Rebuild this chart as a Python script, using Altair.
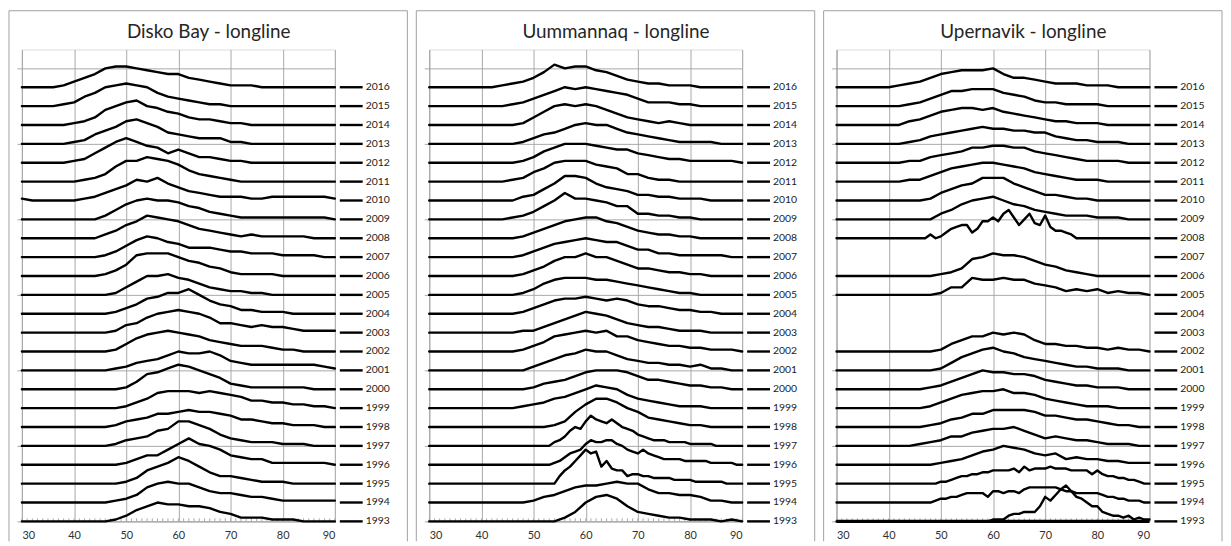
import altair as alt
import pandas as pd

# ---------------- data (10 units = one row spacing) -------------
LENGTHS_2CM = list(range(30, 91, 2))
LENGTHS_1CM = list(range(30, 91))
YEARS = list(range(1993, 2017))
X_TICKS = [30, 40, 50, 60, 70, 80, 90]
MINOR_TICKS = list(range(30, 91))
Y_GRID = list(range(0, 251, 10))
ROW_STEP = 10
TITLES = ["Disko Bay - longline", "Uummannaq - longline", "Upernavik - longline"]

DISKO = {
    2016: [0,0,0,0,1,3,5,7,10,11,11,10,9,8,7,7,5,4,3,2,1,1,1,0,0,0,0,0,0,0,0],
    2015: [0,0,0,0,1,2,5,7,10,11,12,11,10,7,5,4,3,2,1,1,0,0,0,0,0,0,0,0,0,0,0],
    2014: [0,0,0,0,0,1,2,4,8,10,12,13,10,9,7,6,4,3,3,2,1,1,0,0,0,0,0,0,0,0,0],
    2013: [0,0,0,0,0,1,2,5,7,9,12,13,11,9,6,5,4,3,3,3,1,1,0,0,0,0,0,0,0,0,0],
    2012: [0,0,0,0,0,1,2,5,8,11,13,11,9,8,5,7,5,3,3,2,1,1,0,0,0,0,0,0,0,0,0],
    2011: [0,0,0,0,0,0,1,2,4,8,11,11,13,12,11,9,6,4,3,2,1,0,0,0,0,0,0,0,0,0,0],
    2010: [1,0,0,0,0,0,1,2,4,6,8,11,10,12,9,7,5,4,3,2,2,2,1,1,2,2,2,2,2,2,1],
    2009: [0,0,0,0,0,0,0,0,2,5,8,10,11,10,10,9,7,6,4,3,2,1,1,1,1,1,1,1,1,1,0],
    2008: [0,0,0,0,0,0,0,0,2,4,7,9,12,11,10,9,7,5,4,3,2,1,2,1,1,1,1,1,0,0,0],
    2007: [0,0,0,0,0,0,0,0,1,3,6,9,11,10,8,7,5,5,5,4,3,3,2,2,2,1,1,1,1,0,0],
    2006: [0,0,0,0,0,0,0,0,1,3,6,11,12,12,12,10,8,7,5,4,2,1,1,1,1,0,0,0,0,0,0],
    2005: [0,0,0,0,0,0,0,0,0,1,4,7,10,10,11,9,8,6,4,3,2,2,1,1,0,0,0,0,0,0,0],
    2004: [0,0,0,0,0,0,0,0,0,1,3,5,8,9,11,11,13,10,7,5,4,2,2,1,1,1,0,0,0,0,0],
    2003: [0,0,0,0,0,0,0,0,0,1,4,5,8,10,11,12,11,10,8,5,5,4,3,4,3,3,2,1,1,1,1],
    2002: [0,0,0,0,0,0,0,0,0,1,4,7,9,10,11,10,9,8,6,5,4,3,3,3,2,1,1,0,0,0,0],
    2001: [0,0,0,0,0,0,0,0,0,1,2,4,5,6,8,10,9,9,10,8,5,4,3,3,3,3,3,3,3,2,1],
    2000: [0,0,0,0,0,0,0,0,0,0,1,4,8,9,11,13,12,10,8,6,3,2,1,1,1,1,1,1,0,0,0],
    1999: [0,0,0,0,0,0,0,0,0,0,1,3,5,8,9,9,9,8,9,8,7,6,4,4,3,3,2,2,1,1,0],
    1998: [0,0,0,0,0,0,0,0,0,1,3,4,5,7,7,8,9,8,8,7,6,4,4,3,2,2,1,1,1,0,0],
    1997: [0,0,0,0,0,0,0,0,0,1,3,4,5,8,9,13,13,11,9,6,4,3,2,2,2,1,1,1,0,0,0],
    1996: [0,0,0,0,0,0,0,0,0,0,1,3,5,5,8,11,14,11,10,8,5,4,3,3,1,1,1,1,1,1,0],
    1995: [0,0,0,0,0,0,0,0,0,0,1,3,7,9,11,14,12,9,6,4,4,3,2,1,1,1,0,0,0,0,0],
    1994: [0,0,0,0,0,0,0,0,0,1,2,4,8,10,11,10,10,8,6,5,5,4,3,3,2,1,1,1,1,1,1],
    1993: [0,0,0,0,0,0,0,0,0,1,3,6,8,10,9,9,8,8,7,5,4,2,2,2,1,1,1,0,0,0,0],
}

UUMMANNAQ = {
    2016: [0,0,0,0,0,0,0,1,2,3,5,8,12,10,11,11,9,8,6,4,3,2,2,1,1,1,0,0,0,0,0],
    2015: [0,0,0,0,0,0,0,0,1,2,4,6,8,10,9,10,9,8,7,6,4,2,2,2,1,1,0,0,0,0,0],
    2014: [0,0,0,0,0,0,0,0,0,1,4,7,10,11,10,11,10,8,6,4,3,2,1,2,1,0,0,0,0,0,0],
    2013: [0,0,0,0,0,0,0,0,0,1,3,5,6,8,10,11,10,10,8,6,5,4,3,2,1,1,1,1,0,0,0],
    2012: [0,0,0,0,0,0,0,0,0,1,3,6,8,10,10,10,9,8,7,7,5,4,3,2,2,1,1,1,1,1,0],
    2011: [0,0,0,0,0,0,0,0,1,2,5,7,10,11,11,11,9,8,7,4,4,2,1,1,0,0,0,0,0,0,0],
    2010: [0,0,0,0,0,0,0,0,0,2,3,6,9,13,13,12,9,7,6,5,3,3,2,2,1,1,1,0,0,0,0],
    2009: [0,0,0,0,0,0,0,0,1,2,4,7,10,14,11,11,10,9,7,7,3,3,2,2,1,1,0,0,0,0,0],
    2008: [0,0,0,0,0,0,0,0,0,1,3,5,7,9,10,11,11,9,8,6,4,3,2,2,1,1,0,0,0,0,0],
    2007: [0,0,0,0,0,0,0,0,0,1,3,5,7,8,9,10,9,8,8,6,4,4,2,2,1,1,1,1,1,0,0],
    2006: [0,0,0,0,0,0,0,0,0,1,3,5,8,10,10,12,10,10,8,6,4,4,3,2,2,1,1,0,0,0,0],
    2005: [0,0,0,0,0,0,0,0,0,1,3,6,8,9,9,9,8,8,7,6,5,4,3,2,1,1,0,0,0,0,0],
    2004: [0,0,0,0,0,0,0,0,0,1,3,5,7,8,8,9,8,7,8,7,5,4,4,3,2,2,1,1,0,0,0],
    2003: [0,0,0,0,0,0,0,0,0,1,1,3,5,7,9,11,10,9,7,5,4,3,3,2,1,1,1,0,0,0,0],
    2002: [0,0,0,0,0,0,0,0,0,1,3,5,8,9,10,11,10,11,8,8,6,5,4,3,3,2,2,1,1,1,0],
    2001: [0,0,0,0,0,0,0,0,0,0,2,4,6,8,9,11,10,10,8,6,5,4,4,3,3,2,3,1,1,0,0],
    2000: [0,0,0,0,0,0,0,0,0,0,1,3,4,5,7,9,10,10,10,9,7,5,5,4,3,2,2,1,1,0,0],
    1999: [0,0,0,0,0,0,0,0,0,1,2,3,5,6,8,10,12,11,10,7,5,4,3,2,1,1,1,0,0,0,0],
    1998: [0,0,0,0,0,0,0,0,0,0,0,0,1,3,8,12,15,15,13,10,8,5,4,3,2,1,1,0,0,0,0],
    1997: [0,0,0,0,0,0,0,0,0,0, 0,0,0,0,0,0,0,0,0,0, 0,0,0,
           0,2,3,5,8,10,9,13,16,14,13,12,14,12,10,9,8,6,5,4,3,3,3,2,2,2,2,1,1,1,1,1,0,0,0,0,0,0],
    1996: [0,0,0,0,0,0,0,0,0,0, 0,0,0,0,0,0,0,0,0,0, 0,0,0,
           0,1,2,4,6,7,8,11,13,12,12,13,13,11,10,8,7,6,8,6,5,4,3,3,3,3,2,2,2,2,2,1,1,1,1,1,0,0],
    1995: [0,0,0,0,0,0,0,0,0,0, 0,0,0,0,0,0,0,0,0,0, 0,0,0,0,
           0,4,7,9,12,15,18,16,17,9,12,8,7,7,4,5,5,4,4,3,3,3,3,2,2,2,2,1,1,1,1,1,1,0,0,0,0],
    1994: [0,0,0,0,0,0,0,0,0,0,1,3,4,6,8,9,9,10,11,10,10,7,5,5,4,4,3,1,1,0,0],
    1993: [0,0,0,0,0,0,0,0,0,0,0,0,0,2,5,10,13,14,12,8,5,4,3,2,2,1,1,1,0,1,0],
}

UPERNAVIK = {
    2016: [0,0,0,0,0,0,1,2,3,5,7,8,9,9,9,10,7,5,5,4,3,2,2,2,1,1,1,0,0,0,0],
    2015: [0,0,0,0,0,0,0,1,2,4,6,8,8,9,9,9,7,6,5,3,2,2,1,1,1,1,0,0,0,0,0],
    2014: [0,0,0,0,0,0,0,2,3,5,7,8,9,9,8,9,7,6,5,4,3,2,2,1,1,1,0,0,0,0,0],
    2013: [0,0,0,0,0,0,0,1,2,4,5,6,7,8,9,8,8,7,7,6,6,4,3,2,2,1,1,1,0,0,0],
    2012: [0,0,0,0,0,0,0,1,1,3,4,5,6,8,8,9,9,8,8,6,5,4,3,2,1,1,1,1,0,0,0],
    2011: [0,0,0,0,0,0,0,1,1,3,5,7,8,9,10,10,9,8,7,5,4,3,2,1,1,1,0,0,0,0,0],
    2010: [0,0,0,0,0,0,0,0,0,1,4,6,8,9,12,12,12,9,7,5,3,3,2,1,1,0,0,0,0,0,0],
    2009: [0,0,0,0,0,0,0,0,0,0,3,5,8,10,11,12,10,8,7,5,4,3,2,2,2,1,1,1,0,0,0],
    2008: [0,0,0,0,0,0,0,0,0,0, 0,0,0,0,0,0,0,
           0,2,0,1,3,5,6,7,7,3,5,9,9,11,9,13,15,11,7,10,13,8,7,12,6,4,4,3,2,0,
           0,0,0,0,0,0,0,0,0,0,0,0,0,0],
    2006: [0,0,0,0,0,0,0,0,0,0,1,2,4,9,10,12,11,11,10,8,6,5,3,2,1,0,0,0,0,0,0],
    2005: [0,0,0,0,0,0,0,0,0,0,1,4,4,9,8,8,9,8,8,6,5,4,2,3,2,3,1,2,1,1,0],
    2002: [0,0,0,0,0,0,0,0,0,0,1,4,6,8,8,10,9,10,9,6,4,4,3,3,2,2,1,2,1,1,0],
    2001: [0,0,0,0,0,0,0,0,0,0,1,4,7,9,11,12,10,9,7,6,5,4,3,2,2,1,1,1,0,0,0],
    2000: [0,0,0,0,0,0,0,0,0,1,2,4,6,8,10,9,9,8,8,7,5,4,3,2,2,1,1,1,0,0,0],
    1999: [0,0,0,0,0,0,0,0,0,1,3,5,7,8,9,9,10,8,8,7,5,4,3,2,1,1,1,0,0,0,0],
    1998: [0,0,0,0,0,0,0,0,0,1,2,4,5,7,7,9,9,9,9,8,6,6,5,4,4,3,2,1,1,0,0],
    1997: [0,0,0,0,0,0,0,0,1,2,3,5,5,7,8,9,9,10,8,6,4,5,4,3,3,2,1,1,1,0,0],
    1996: [0,0,0,0,0,0,0,0,0,0,1,2,3,5,7,8,10,9,8,6,5,6,3,4,3,3,2,2,1,1,1],
    1995: [0,0,0,0,0,0,0,0,0,0, 0,0,0,0,0,0,0,0,0,
           0,1,1,2,3,4,4,5,5,6,6,7,7,7,7,8,6,9,7,8,8,8,9,8,8,8,7,7,7,7,5,7,5,4,4,3,3,2,2,1,0,0],
    1994: [0,0,0,0,0,0,0,0,0,0, 0,0,0,0,0,0,0,0,
           0,1,2,2,3,3,4,5,5,5,5,3,6,6,5,6,6,5,7,8,8,8,8,8,8,7,6,6,5,5,5,5,5,4,3,3,2,2,1,1,1,0,0],
    1993: [0,0,0,0,0,0,0,0,0,0, 0,0,0,0,0,0,0,0,0,0, 0,0,0,0,0,0,0,0,
           0,0,1,1,1,3,4,4,5,5,5,8,13,11,14,17,19,16,13,12,10,8,8,5,4,3,3,2,3,1,2,1,1],
}

PANELS = [DISKO, UUMMANNAQ, UPERNAVIK]

# ---------------- styling -------------
W, H = 315, 475
FONT = "Lato"
GRID = "#a8a8a8"
BORDER = "#a0a0a0"
Y_MAX = 250


def series_frame(series):
    rows = []
    for year, vals in series.items():
        xs = LENGTHS_1CM if len(vals) == len(LENGTHS_1CM) else LENGTHS_2CM
        for length, v in zip(xs, vals):
            rows.append({"year": year, "length": length,
                         "y": (year - YEARS[0]) * ROW_STEP + v})
    return pd.DataFrame(rows)


x_scale = alt.Scale(domain=[30, 90], nice=False, zero=False)
y_scale = alt.Scale(domain=[0, Y_MAX], nice=False, zero=False)

x_axis = alt.Axis(values=X_TICKS, grid=True, gridColor=GRID, gridWidth=1,
                  domainColor=GRID, ticks=False, labelFont=FONT, labelFontSize=11,
                  labelColor="#303030", labelPadding=8, title=None)
y_axis = alt.Axis(values=Y_GRID, grid=True, gridColor=GRID, gridWidth=1,
                  domainColor=GRID, ticks=True, tickSize=5, tickColor=GRID,
                  labels=False, title=None)

one = pd.DataFrame({"k": [0]})
labels_df = pd.DataFrame({"year": YEARS,
                          "base": [(y - YEARS[0]) * ROW_STEP for y in YEARS]})
ticks_df = pd.DataFrame({"length": MINOR_TICKS})


def panel(series, title, thick_base=False):
    df = series_frame(series)
    base_grid = alt.Chart(df).mark_line(opacity=0).encode(
        x=alt.X("length:Q", scale=x_scale, axis=x_axis),
        y=alt.Y("y:Q", scale=y_scale, axis=y_axis),
        detail="year:N",
    )
    minor = alt.Chart(ticks_df).mark_rule(color=GRID, strokeWidth=1).encode(
        x=alt.X("length:Q", scale=x_scale),
        y=alt.value(H - 3), y2=alt.value(H),
    )
    lines = alt.Chart(df).mark_line(color="black", strokeWidth=2.4,
                                    strokeJoin="round", strokeCap="round").encode(
        x=alt.X("length:Q", scale=x_scale),
        y=alt.Y("y:Q", scale=y_scale),
        detail="year:N",
    )
    leaders = alt.Chart(labels_df).mark_rule(color="black", strokeWidth=2.4).encode(
        x=alt.value(W + 5), x2=alt.value(W + 28),
        y=alt.Y("base:Q", scale=y_scale),
    )
    year_text = alt.Chart(labels_df).mark_text(
        align="left", baseline="middle", font=FONT, fontSize=10.5, color="#1a1a1a"
    ).encode(
        x=alt.value(W + 31),
        y=alt.Y("base:Q", scale=y_scale),
        text="year:N",
    )
    title_df = pd.DataFrame({"t": [title]})
    title_text = alt.Chart(title_df).mark_text(
        align="center", baseline="alphabetic", font=FONT, fontSize=19, color="#262626"
    ).encode(x=alt.value(188), y=alt.value(-12), text="t:N")
    border_left = alt.Chart(one).mark_rule(color=BORDER, strokeWidth=1).encode(
        x=alt.value(-13), y=alt.value(-39), y2=alt.value(H + 20))
    border_top = alt.Chart(one).mark_rule(color=BORDER, strokeWidth=1).encode(
        x=alt.value(-13), x2=alt.value(W + 73), y=alt.value(-39))
    border_right = alt.Chart(one).mark_rule(color=BORDER, strokeWidth=1).encode(
        x=alt.value(W + 73), y=alt.value(-39), y2=alt.value(H + 20))

    layers = [base_grid, minor, lines, leaders, year_text, title_text,
              border_left, border_top, border_right]
    if thick_base:
        thick = alt.Chart(one).mark_rule(color="black", strokeWidth=3.5).encode(
            x=alt.datum(30, scale=x_scale), x2=alt.datum(90),
            y=alt.datum(0, scale=y_scale))
        layers.append(thick)
    return alt.layer(*layers).properties(width=W, height=H)


charts = [panel(PANELS[0], TITLES[0]),
          panel(PANELS[1], TITLES[1]),
          panel(PANELS[2], TITLES[2], thick_base=True)]

chart = alt.hconcat(*charts, spacing=7).properties(padding=0).configure_view(
    strokeWidth=0
).configure(font=FONT)

chart.save("out.html", embed_options={"renderer": "svg", "actions": False})
